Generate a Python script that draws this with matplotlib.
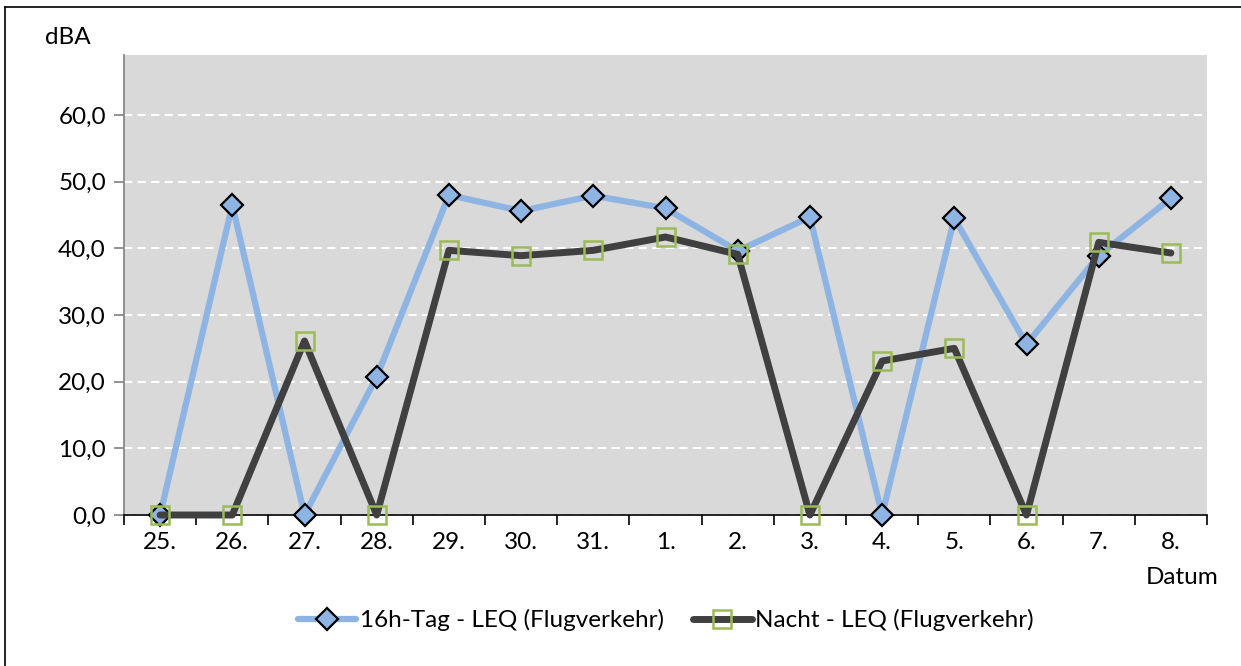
import matplotlib
matplotlib.use("Agg")
import matplotlib.pyplot as plt
from matplotlib.lines import Line2D

categories = ["25.", "26.", "27.", "28.", "29.", "30.", "31.", "1.", "2.", "3.", "4.", "5.", "6.", "7.", "8."]
day_leq = [0.0, 46.5, 0.0, 20.7, 48.0, 45.6, 47.9, 46.0, 39.6, 44.7, 0.0, 44.5, 25.6, 38.9, 47.5]
night_leq = [0.0, 0.0, 26.1, 0.0, 39.7, 38.9, 39.7, 41.7, 39.1, 0.0, 23.1, 25.0, 0.0, 40.9, 39.3]
yticks = [0, 10, 20, 30, 40, 50, 60]
ytick_labels = ["0,0", "10,0", "20,0", "30,0", "40,0", "50,0", "60,0"]
day_label = "16h-Tag - LEQ (Flugverkehr)"
night_label = "Nacht - LEQ (Flugverkehr)"

plt.rcParams['font.family'] = ['Lato', 'DejaVu Sans']
FS = 17.5

fig = plt.figure(figsize=(12.41, 6.66), dpi=100)
ax = fig.add_axes([124/1241, 1-515/666, (1207-124)/1241, (515-55)/666])
ax.set_facecolor("#D9D9D9")

x = list(range(len(categories)))
blue = "#8DB4E2"
dark = "#404040"
green = "#9BBB59"

ax.plot(x, day_leq, color=blue, lw=4.5, solid_joinstyle='round', solid_capstyle='round',
        marker='D', ms=11, mfc=blue, mec='black', mew=1.6, zorder=3, label=day_label, clip_on=False)
ax.plot(x, night_leq, color=dark, lw=5, solid_joinstyle='round', solid_capstyle='round',
        marker='s', ms=13, mfc='none', mec=green, mew=1.8, zorder=4, label=night_label, clip_on=False)

ax.set_xlim(-0.5, len(categories) - 0.5)
ax.set_ylim(0, 69)
ax.set_yticks(yticks)
ax.set_yticklabels(ytick_labels, fontsize=FS)
ax.yaxis.grid(True, color='white', linestyle=(0, (4, 2.5)), lw=1.5)
ax.set_axisbelow(True)

ax.set_xticks(x)
ax.set_xticklabels(categories, fontsize=FS)
ax.tick_params(axis='x', length=0, pad=12)
ax.set_xticks([i - 0.5 for i in range(len(categories) + 1)], minor=True)
ax.tick_params(axis='x', which='minor', length=7, width=1.2, color='black', direction='out')
ax.tick_params(axis='y', length=7, width=1.2, color='#808080', pad=6)

for s in ['top', 'right']:
    ax.spines[s].set_visible(False)
ax.spines['left'].set_color('#808080')
ax.spines['left'].set_linewidth(1.2)
ax.spines['bottom'].set_color('black')
ax.spines['bottom'].set_linewidth(1.2)

fig.text(68/1241, 1-37/666, "dBA", fontsize=FS, ha='center', va='center')
fig.text(1182/1241, 1-578/666, "Datum", fontsize=FS, ha='center', va='center')

leg = fig.legend(handles=ax.get_lines(), loc='center', bbox_to_anchor=(666/1241, 1-620/666),
                 ncol=2, frameon=False, fontsize=FS, handlelength=2.4, columnspacing=1.2,
                 handletextpad=0.15)

# figure frame (left and top edges visible)
fig.add_artist(Line2D([5/1241, 5/1241], [0, 1-7/666], color='black', lw=1.2, transform=fig.transFigure))
fig.add_artist(Line2D([5/1241, 1], [1-7/666, 1-7/666], color='black', lw=1.2, transform=fig.transFigure))

fig.savefig("out.png", dpi=100)
